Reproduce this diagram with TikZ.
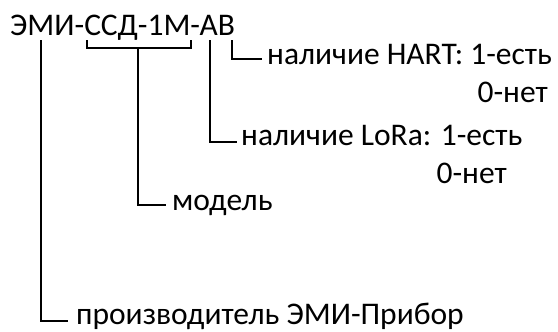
\documentclass[tikz,border=0pt]{standalone}
\usepackage{fontspec}
\setmainfont{Carlito}
\begin{document}
\begin{tikzpicture}[x=1pt,y=-1pt,
  lab/.style={inner sep=0pt,anchor=base west,font=\fontsize{31.5}{38}\selectfont},
  labr/.style={lab,anchor=base east},
  conn/.style={line width=1.6pt,black}]
\useasboundingbox (0,0) rectangle (558,332);
% title
\node[lab] (title) at (10,35) {ЭМИ-ССД-1М-АВ};
% labels
\node[lab] (hart) at (267,64) {наличие HART: 1-есть};
\node[labr] (hart0) at (548,102) {0-нет};
\node[lab] (lora) at (241,145) {наличие LoRa: 1-есть};
\node[labr] (lora0) at (507,183) {0-нет};
\node[lab] (model) at (172,210) {модель};
\node[lab] (prod) at (76,324) {производитель ЭМИ-Прибор};
% tick tops under the title
\coordinate (tE) at (41,40);
\coordinate (bL) at (87,40);
\coordinate (bR) at (191,40);
\coordinate (bM) at (138,48);
\coordinate (tA) at (210,40);
\coordinate (tB) at (232,40);
% free ends of the connectors, in front of the labels
\coordinate (eB) at (262,59);
\coordinate (eA) at (237,142);
\coordinate (eM) at (166,205);
\coordinate (eE) at (68,321);
% connectors
\draw[conn] (bL) -- (87,48) -- (191,48) -- (bR);
\draw[conn] (tB) |- (eB);
\draw[conn] (tA) |- (eA);
\draw[conn] (bM) |- (eM);
\draw[conn] (tE) |- (eE);
\end{tikzpicture}
\end{document}
